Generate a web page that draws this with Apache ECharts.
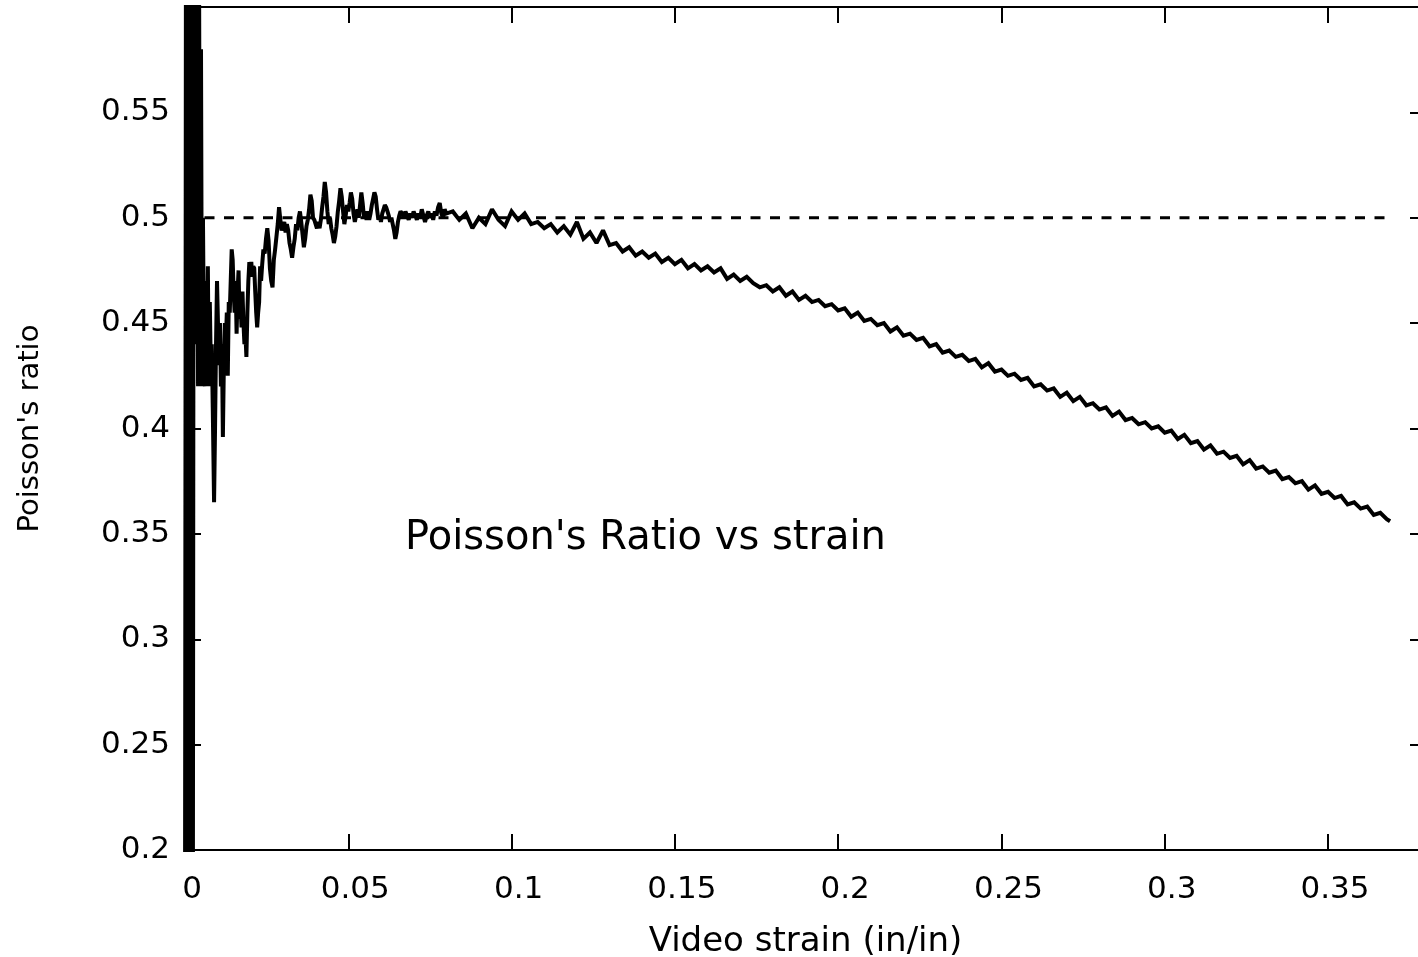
<!DOCTYPE html>
<html>
<head>
<meta charset="utf-8">
<title>Poisson's Ratio vs strain</title>
<script src="https://cdn.jsdelivr.net/npm/echarts@6/dist/echarts.min.js"></script>
<style>
  html, body { margin: 0; padding: 0; background: #fff; }
  #chart { width: 1418px; height: 957px; }
</style>
</head>
<body>
<div id="chart"></div>
<script>
// Measured video strain (in/in) and the Poisson's ratio computed at each step
const strain = [
  0, 0.0003, 0.0006, 0.0009, 0.0012, 0.0015, 0.0018, 0.0021, 0.0024,
  0.0027, 0.0030, 0.0034,
  0.0040, 0.0043, 0.0046, 0.0049, 0.0052, 0.0055, 0.0058, 0.0061, 0.0064, 0.0067,
  0.0070, 0.0073, 0.0076, 0.0079, 0.0082, 0.0085, 0.0089, 0.0092, 0.0095, 0.0098,
  0.0101, 0.0104, 0.0107, 0.0110, 0.0113, 0.0116, 0.0119, 0.0122, 0.0125, 0.0128,
  0.0131, 0.0134, 0.0137, 0.0140, 0.0143, 0.0146, 0.0149, 0.0152, 0.0155, 0.0158,
  0.0161, 0.0164, 0.0167, 0.0170, 0.0173, 0.0176, 0.0179, 0.0182, 0.0185, 0.0188,
  0.0191, 0.0194, 0.0197, 0.0200, 0.0203, 0.0206, 0.0209, 0.0212, 0.0215, 0.0218,
  0.0221, 0.0224, 0.0227, 0.0230, 0.0233, 0.0236, 0.0240, 0.0244, 0.0248, 0.0252,
  0.0256, 0.0260, 0.0264, 0.0268, 0.0272, 0.0276, 0.0280, 0.0284, 0.0288, 0.0292,
  0.0296, 0.0300, 0.0304, 0.0308, 0.0312, 0.0316, 0.0320, 0.0324, 0.0328, 0.0332,
  0.0336, 0.0340, 0.0344, 0.0348, 0.0352, 0.0356, 0.0360, 0.0364, 0.0368, 0.0372,
  0.0376, 0.0380, 0.0384, 0.0388, 0.0392, 0.0396, 0.0400, 0.0404, 0.0408, 0.0412,
  0.0416, 0.0420, 0.0424, 0.0428, 0.0432, 0.0436, 0.0440, 0.0444, 0.0448, 0.0452,
  0.0456, 0.0460, 0.0464, 0.0468, 0.0472, 0.0476, 0.0480, 0.0484, 0.0488, 0.0492,
  0.0496, 0.0500, 0.0504, 0.0508, 0.0512, 0.0516, 0.0520, 0.0524, 0.0528, 0.0532,
  0.0536, 0.0540, 0.0544, 0.0548, 0.0552, 0.0556, 0.0560, 0.0564, 0.0568, 0.0572,
  0.0576, 0.0580, 0.0584, 0.0588, 0.0592, 0.0596, 0.0600, 0.0604, 0.0608, 0.0612,
  0.0616, 0.0620, 0.0624, 0.0628, 0.0632, 0.0636, 0.0640, 0.0644, 0.0648, 0.0652,
  0.0656, 0.0660, 0.0665, 0.0670, 0.0675, 0.0680, 0.0685, 0.0690, 0.0695, 0.0700,
  0.0705, 0.0710, 0.0715, 0.0720, 0.0725, 0.0730, 0.0735, 0.0740, 0.0745, 0.0750,
  0.0755, 0.0760, 0.0765, 0.0770, 0.0775, 0.0780, 0.0785, 0.0790, 0.0795, 0.0800,
  0.082, 0.084, 0.086, 0.088, 0.090, 0.092, 0.094, 0.096, 0.098, 0.100,
  0.102, 0.104, 0.106, 0.108, 0.110, 0.112, 0.114, 0.116, 0.118, 0.120,
  0.122, 0.124, 0.126, 0.128, 0.130, 0.132, 0.134, 0.136, 0.138, 0.140,
  0.142, 0.144, 0.146, 0.148, 0.150, 0.152, 0.154, 0.156, 0.158, 0.160,
  0.162, 0.164, 0.166, 0.168, 0.170, 0.172, 0.174, 0.176, 0.178, 0.180,
  0.182, 0.184, 0.186, 0.188, 0.190, 0.192, 0.194, 0.196, 0.198, 0.200,
  0.202, 0.204, 0.206, 0.208, 0.210, 0.212, 0.214, 0.216, 0.218, 0.220,
  0.222, 0.224, 0.226, 0.228, 0.230, 0.232, 0.234, 0.236, 0.238, 0.240,
  0.242, 0.244, 0.246, 0.248, 0.250, 0.252, 0.254, 0.256, 0.258, 0.260,
  0.262, 0.264, 0.266, 0.268, 0.270, 0.272, 0.274, 0.276, 0.278, 0.280,
  0.282, 0.284, 0.286, 0.288, 0.290, 0.292, 0.294, 0.296, 0.298, 0.300,
  0.302, 0.304, 0.306, 0.308, 0.310, 0.312, 0.314, 0.316, 0.318, 0.320,
  0.322, 0.324, 0.326, 0.328, 0.330, 0.332, 0.334, 0.336, 0.338, 0.340,
  0.342, 0.344, 0.346, 0.348, 0.350, 0.352, 0.354, 0.356, 0.358, 0.360,
  0.362, 0.364, 0.366, 0.368, 0.369
];

const ratio = [
  0.15, 0.65, 0.15, 0.65, 0.15, 0.65, 0.15, 0.65, 0.15,
  0.65, 0.44, 0.65,
  0.42, 0.62, 0.45, 0.58, 0.42, 0.50, 0.44, 0.42, 0.47, 0.43,
  0.477, 0.42, 0.46, 0.43, 0.44, 0.41, 0.365, 0.40, 0.44, 0.47,
  0.47, 0.43, 0.45, 0.42, 0.44, 0.396, 0.43, 0.45, 0.44, 0.455,
  0.425, 0.46, 0.455, 0.47, 0.485, 0.48, 0.465, 0.455, 0.47, 0.445,
  0.465, 0.475, 0.452, 0.46, 0.448, 0.465, 0.45, 0.44, 0.445, 0.434,
  0.455, 0.47, 0.479, 0.474, 0.479, 0.472, 0.477, 0.476, 0.465, 0.455,
  0.448, 0.455, 0.46, 0.477, 0.47, 0.477, 0.485, 0.483, 0.49, 0.495,
  0.489, 0.476, 0.47, 0.467, 0.48, 0.485, 0.491, 0.497, 0.505, 0.499,
  0.494, 0.496, 0.498, 0.493, 0.497, 0.494, 0.488, 0.485, 0.481, 0.486,
  0.49, 0.497, 0.494, 0.50, 0.503, 0.498, 0.492, 0.486, 0.49, 0.496,
  0.499, 0.504, 0.511, 0.508, 0.50, 0.499, 0.497, 0.495, 0.498, 0.495,
  0.499, 0.505, 0.51, 0.517, 0.512, 0.503, 0.497, 0.50, 0.495, 0.492,
  0.488, 0.491, 0.496, 0.503, 0.508, 0.514, 0.51, 0.503, 0.497, 0.501,
  0.506, 0.503, 0.507, 0.512, 0.509, 0.502, 0.498, 0.501, 0.504, 0.50,
  0.506, 0.512, 0.507, 0.50, 0.503, 0.499, 0.503, 0.499, 0.502, 0.506,
  0.509, 0.512, 0.51, 0.504, 0.499, 0.501, 0.498, 0.502, 0.504, 0.506,
  0.505, 0.503, 0.501, 0.498, 0.50, 0.497, 0.494, 0.49, 0.493, 0.498,
  0.501, 0.503, 0.502, 0.50, 0.503, 0.501, 0.499, 0.502, 0.50, 0.503,
  0.501, 0.499, 0.502, 0.50, 0.504, 0.501, 0.498, 0.501, 0.503, 0.50,
  0.502, 0.499, 0.503, 0.501, 0.505, 0.507, 0.502, 0.50, 0.504, 0.502,
  0.503, 0.499, 0.502, 0.495, 0.500, 0.497, 0.504, 0.499, 0.496, 0.503,
  0.499, 0.502, 0.497, 0.498, 0.495, 0.497, 0.493, 0.496, 0.492, 0.498,
  0.490, 0.493, 0.488, 0.494, 0.487, 0.488, 0.484, 0.486, 0.482, 0.484,
  0.481, 0.483, 0.479, 0.481, 0.478, 0.480, 0.476, 0.478, 0.475, 0.477,
  0.474, 0.476, 0.471, 0.473, 0.470, 0.472, 0.469, 0.467, 0.468, 0.465,
  0.467, 0.463, 0.465, 0.461, 0.463, 0.460, 0.461, 0.458, 0.459, 0.456,
  0.457, 0.453, 0.455, 0.451, 0.452, 0.449, 0.450, 0.446, 0.448, 0.444,
  0.445, 0.442, 0.443, 0.439, 0.440, 0.436, 0.437, 0.434, 0.435, 0.432,
  0.433, 0.429, 0.431, 0.427, 0.428, 0.425, 0.426, 0.423, 0.424, 0.420,
  0.421, 0.418, 0.419, 0.415, 0.417, 0.413, 0.415, 0.411, 0.412, 0.409,
  0.410, 0.406, 0.408, 0.404, 0.405, 0.402, 0.403, 0.400, 0.401, 0.398,
  0.399, 0.395, 0.397, 0.393, 0.394, 0.390, 0.392, 0.388, 0.389, 0.386,
  0.387, 0.383, 0.385, 0.381, 0.382, 0.379, 0.380, 0.376, 0.377, 0.374,
  0.375, 0.371, 0.373, 0.369, 0.370, 0.367, 0.368, 0.364, 0.365, 0.362,
  0.363, 0.359, 0.360, 0.357, 0.356
];

// Incompressible reference (nu = 0.5)
const refStrain = [0, 0.369];
const refRatio = [0.5, 0.5];

const xTicks = [0, 0.05, 0.1, 0.15, 0.2, 0.25, 0.3, 0.35];
const yTicks = [0.2, 0.25, 0.3, 0.35, 0.4, 0.45, 0.5, 0.55, 0.6];
const yLabels = [0.2, 0.25, 0.3, 0.35, 0.4, 0.45, 0.5, 0.55];

const FONT = "'DejaVu Sans', sans-serif";
const INK = '#000';

const frameLine = { color: INK, width: 2 };
const innerTick = {
  show: true,
  inside: true,
  length: 16,
  lineStyle: { color: INK, width: 2 }
};

const chart = echarts.init(document.getElementById('chart'), null, { renderer: 'canvas' });

chart.setOption({
  animation: false,
  backgroundColor: '#fff',
  title: {
    text: "Poisson's Ratio vs strain",
    left: 400,
    top: 514,
    textStyle: { fontFamily: FONT, fontSize: 40, fontWeight: 'normal', color: INK }
  },
  // the frame runs slightly past the right edge of the page
  grid: { left: 185, top: 7, width: 1241, height: 843, outerBoundsMode: 'none', containLabel: false },
  xAxis: [
    {
      type: 'value',
      position: 'bottom',
      min: 0,
      max: 0.38,
      interval: 0.05,
      name: 'Video strain (in/in)',
      nameLocation: 'middle',
      nameGap: 75,
      nameTextStyle: { fontFamily: FONT, fontSize: 34, color: INK, padding: [0, 0, 0, 0] },
      axisLine: { show: true, onZero: false, lineStyle: frameLine },
      axisTick: { ...innerTick, customValues: xTicks },
      axisLabel: {
        customValues: xTicks,
        margin: 24,
        padding: [0, 0, 0, 14],
        fontFamily: FONT,
        fontSize: 31,
        color: INK
      },
      splitLine: { show: false }
    },
    {
      type: 'value',
      position: 'top',
      min: 0,
      max: 0.38,
      interval: 0.05,
      axisLine: { show: true, onZero: false, lineStyle: frameLine },
      axisTick: { ...innerTick, customValues: xTicks },
      axisLabel: { show: false },
      splitLine: { show: false }
    }
  ],
  yAxis: [
    {
      type: 'value',
      position: 'left',
      min: 0.2,
      max: 0.6,
      interval: 0.05,
      name: "Poisson's ratio",
      nameLocation: 'middle',
      nameGap: 140,
      nameTextStyle: { fontFamily: FONT, fontSize: 29, color: INK },
      axisLine: { show: true, onZero: false, lineStyle: frameLine },
      axisTick: { ...innerTick, customValues: yTicks },
      axisLabel: {
        customValues: yLabels,
        margin: 15,
        fontFamily: FONT,
        fontSize: 31,
        color: INK
      },
      splitLine: { show: false }
    },
    {
      type: 'value',
      position: 'right',
      min: 0.2,
      max: 0.6,
      interval: 0.05,
      axisLine: { show: true, onZero: false, lineStyle: frameLine },
      axisTick: { ...innerTick, customValues: yTicks },
      axisLabel: { show: false },
      splitLine: { show: false }
    }
  ],
  series: [
    {
      name: 'nu = 0.5',
      type: 'line',
      xAxisIndex: 0,
      yAxisIndex: 0,
      data: refStrain.map((x, i) => [x, refRatio[i]]),
      showSymbol: false,
      silent: true,
      lineStyle: { color: INK, width: 3, type: [10, 9.5] },
      z: 2
    },
    {
      name: "Poisson's ratio",
      type: 'line',
      xAxisIndex: 0,
      yAxisIndex: 0,
      data: strain.map((x, i) => [x, ratio[i]]),
      showSymbol: false,
      clip: true,
      lineStyle: { color: INK, width: 4, join: 'miter', miterLimit: 2 },
      z: 3
    }
  ]
});
</script>
</body>
</html>
